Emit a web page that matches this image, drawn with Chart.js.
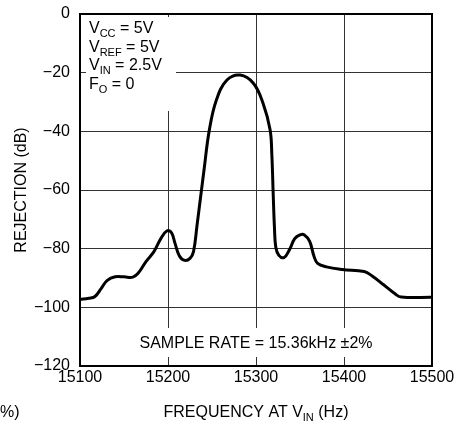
<!DOCTYPE html>
<html>
<head>
<meta charset="utf-8">
<script src="https://cdn.jsdelivr.net/npm/chart.js@4/dist/chart.umd.min.js"></script>
<style>
  html, body { margin: 0; padding: 0; background: #fff; }
  canvas { display: block; }
</style>
</head>
<body>
<canvas id="rejectionChart" width="455" height="424"></canvas>
<script>
// Rejection vs input frequency
const freqHz = [15100, 15110, 15117, 15124, 15131, 15140, 15150, 15160, 15166, 15175,
    15184, 15192, 15199, 15204, 15208, 15213, 15219, 15225, 15229, 15233,
    15241, 15247, 15255, 15267, 15282, 15297, 15308, 15316, 15318, 15319.5,
    15321, 15322.5, 15326, 15332, 15338, 15344, 15350, 15355, 15361, 15366,
    15370, 15380, 15398, 15423, 15432, 15445, 15458, 15465, 15500];
const rejectionDb = [-97.3, -96.9, -96.3, -93.6, -90.8, -89.6, -89.6, -89.7, -88.4, -84.4,
    -81, -76.5, -73.9, -74.6, -78.2, -82.5, -84, -83.3, -81, -72,
    -53, -39.5, -29.3, -22.5, -20.8, -23.6, -30.4, -39.5, -48, -61,
    -73, -79.5, -82.3, -83, -80.4, -76.6, -75.3, -75.3, -77.5, -82.7,
    -85, -86.2, -87.1, -87.8, -89.3, -92.3, -95.4, -96.5, -96.6];

const xMin = 15100, xMax = 15500, xStep = 100;
const yMin = -120, yMax = 0, yStep = 20;

// text pieces: [text, isSubscript]
const conditionLines = [
    [['V', 0], ['CC', 1], [' = 5V', 0]],
    [['V', 0], ['REF', 1], [' = 5V', 0]],
    [['V', 0], ['IN', 1], [' = 2.5V', 0]],
    [['F', 0], ['O', 1], [' = 0', 0]]
];
const sampleRateLabel = 'SAMPLE RATE = 15.36kHz \u00B12%';
const xTitle = [['FREQUENCY AT V', 0], ['IN', 1], [' (Hz)', 0]];
const yTitle = 'REJECTION (dB)';

const FONT = '"Liberation Sans", Arial, sans-serif';

function measureParts(ctx, parts) {
    let w = 0;
    parts.forEach(p => {
        ctx.font = (p[1] ? '11px ' : '16px ') + FONT;
        w += ctx.measureText(p[0]).width;
    });
    return w;
}

function drawParts(ctx, parts, x, y) {
    ctx.textAlign = 'left';
    ctx.textBaseline = 'alphabetic';
    parts.forEach(p => {
        ctx.font = (p[1] ? '11px ' : '16px ') + FONT;
        ctx.fillText(p[0], x, p[1] ? y + 4 : y);
        x += ctx.measureText(p[0]).width;
    });
}

const annotations = {
    id: 'annotations',
    beforeDatasetsDraw(chart) {
        const ctx = chart.ctx;
        const a = chart.chartArea;
        ctx.save();
        // white boxes behind the labels that break the grid lines
        ctx.fillStyle = '#fff';
        ctx.fillRect(a.left + 6, a.top + 3, 90, 94);
        ctx.fillRect(132, 328, 248, 29);
        // full frame
        ctx.strokeStyle = '#000';
        ctx.lineWidth = 2;
        ctx.strokeRect(a.left, a.top, a.right - a.left, a.bottom - a.top);
        ctx.restore();
    },
    afterDraw(chart) {
        const ctx = chart.ctx;
        const area = chart.chartArea;
        ctx.save();
        ctx.fillStyle = '#000';
        conditionLines.forEach((line, i) => drawParts(ctx, line, area.left + 9, area.top + 19 + i * 18.7));

        ctx.font = '16px ' + FONT;
        ctx.textAlign = 'center';
        ctx.fillText(sampleRateLabel, (area.left + area.right) / 2, 348);

        const w = measureParts(ctx, xTitle);
        drawParts(ctx, xTitle, (area.left + area.right) / 2 - w / 2, 417);

        ctx.font = '16px ' + FONT;
        ctx.textAlign = 'left';
        ctx.fillText('%)', 0, 417);
        ctx.restore();
    }
};

new Chart(document.getElementById('rejectionChart'), {
    type: 'line',
    data: {
        datasets: [{
            data: freqHz.map((f, i) => ({ x: f, y: rejectionDb[i] })),
            borderColor: '#000',
            borderWidth: 3,
            pointRadius: 0,
            fill: false,
            tension: 0.4
        }]
    },
    options: {
        responsive: false,
        animation: false,
        layout: { padding: { left: 0, right: 23, top: 14, bottom: 0 } },
        plugins: {
            legend: { display: false },
            tooltip: { enabled: false }
        },
        scales: {
            x: {
                type: 'linear',
                min: xMin,
                max: xMax,
                afterFit: s => {
                    s.height = 58;
                    s.paddingLeft = 0;
                    s.paddingRight = 0;
                },
                afterBuildTicks: s => {
                    s.ticks = [];
                    for (let v = xMin; v <= xMax; v += xStep) s.ticks.push({ value: v });
                },
                ticks: {
                    color: '#000',
                    font: { family: FONT, size: 16 },
                    padding: 2,
                    maxRotation: 0,
                    callback: v => String(v)
                },
                grid: { color: '#333', lineWidth: 1, drawTicks: false },
                border: { color: '#000', width: 2 }
            },
            y: {
                type: 'linear',
                min: yMin,
                max: yMax,
                afterFit: s => {
                    s.width = 80;
                    s.paddingTop = 0;
                    s.paddingBottom = 0;
                },
                ticks: {
                    stepSize: yStep,
                    color: '#000',
                    font: { family: FONT, size: 16 },
                    padding: 10,
                    callback: v => String(v).replace('-', '\u2212')
                },
                title: {
                    display: true,
                    text: yTitle,
                    color: '#000',
                    font: { family: FONT, size: 16 },
                    padding: { top: 12, bottom: 0 }
                },
                grid: { color: '#333', lineWidth: 1, drawTicks: false },
                border: { color: '#000', width: 2 }
            }
        }
    },
    plugins: [annotations]
});
</script>
</body>
</html>
